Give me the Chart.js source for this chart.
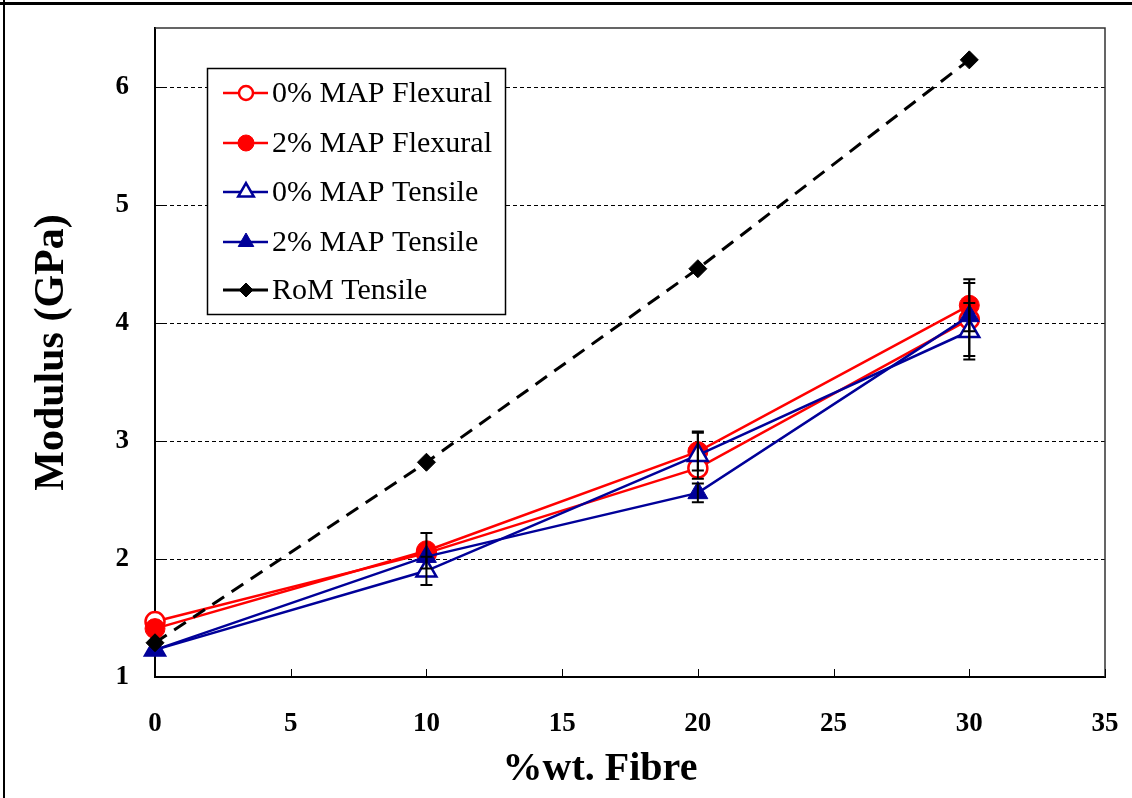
<!DOCTYPE html>
<html>
<head>
<meta charset="utf-8">
<script src="https://cdn.jsdelivr.net/npm/chart.js@4.4.0/dist/chart.umd.min.js"></script>
<style>
html,body{margin:0;padding:0;background:#fff;}
#wrap{width:1132px;height:798px;position:relative;}
</style>
</head>
<body>
<div id="wrap"><canvas id="c" width="1132" height="798"></canvas></div>
<script>
// ---- data ----
const fibreContent = [0, 10, 20, 30];
const flexural0MAP = [1.47, 2.05, 2.77, 4.03];
const flexural2MAP = [1.41, 2.07, 2.91, 4.15];
const tensile0MAP  = [1.23, 1.90, 2.88, 3.93];
const tensile2MAP  = [1.23, 2.02, 2.56, 4.06];
const romTensile   = [1.29, 2.82, 4.46, 6.23];
// error bar half-lengths (0 = none)
const flexural0Err = [0, 0, 0, 0.31];
const flexural2Err = [0, 0.15, 0.16, 0.22];
const tensile0Err  = [0, 0.12, 0.20, 0.24];
const tensile2Err  = [0, 0, 0.08, 0];
const xTicks = [0, 5, 10, 15, 20, 25, 30, 35];
const yTicks = [1, 2, 3, 4, 5, 6];
const seriesNames = ['0% MAP Flexural', '2% MAP Flexural', '0% MAP Tensile', '2% MAP Tensile', 'RoM Tensile'];
const xTitle = '%wt. Fibre';
const yTitle = 'Modulus (GPa)';

const RED = '#ff0000', BLUE = '#000099', BLACK = '#000000';
const SERIF = '"Liberation Serif", "Times New Roman", serif';

function pts(ys) { return fibreContent.map((x, i) => ({x: x, y: ys[i]})); }

const datasets = [
  {label: seriesNames[0], data: pts(flexural0MAP), errors: flexural0Err, borderColor: RED, borderWidth: 2.5,
   pointStyle: 'circle', pointRadius: 9.5, pointBackgroundColor: '#fff', pointBorderColor: RED, pointBorderWidth: 2.5, order: 5,
   legendRadius: 7},
  {label: seriesNames[1], data: pts(flexural2MAP), errors: flexural2Err, borderColor: RED, borderWidth: 2.5,
   pointStyle: 'circle', pointRadius: 10, pointBackgroundColor: RED, pointBorderColor: RED, pointBorderWidth: 1, order: 4,
   legendRadius: 8},
  {label: seriesNames[2], data: pts(tensile0MAP), errors: tensile0Err, borderColor: BLUE, borderWidth: 2.5,
   pointStyle: 'triangle', pointRadius: 11.5, pointBackgroundColor: '#fff', pointBorderColor: BLUE, pointBorderWidth: 2.5, order: 3,
   legendRadius: 9},
  {label: seriesNames[3], data: pts(tensile2MAP), errors: tensile2Err, borderColor: BLUE, borderWidth: 2.5,
   pointStyle: 'triangle', pointRadius: 11.5, pointBackgroundColor: BLUE, pointBorderColor: BLUE, pointBorderWidth: 1, order: 2,
   legendRadius: 9},
  {label: seriesNames[4], data: pts(romTensile), errors: null, borderColor: BLACK, borderWidth: 3, borderDash: [14, 9],
   pointStyle: 'rectRot', pointRadius: 9, pointBackgroundColor: BLACK, pointBorderColor: BLACK, pointBorderWidth: 1, order: 1,
   legendRadius: 7}
];
datasets.forEach(d => { d.fill = false; d.tension = 0; d.clip = false; d.pointHoverRadius = d.pointRadius; });

function drawMarker(ctx, ds, x, y, r) {
  ctx.save();
  ctx.fillStyle = ds.pointBackgroundColor;
  ctx.strokeStyle = ds.pointBorderColor;
  ctx.lineWidth = ds.pointBorderWidth;
  ctx.setLineDash([]);
  if (Chart.helpers && Chart.helpers.drawPoint) {
    Chart.helpers.drawPoint(ctx, {pointStyle: ds.pointStyle, radius: r, rotation: 0, borderWidth: ds.pointBorderWidth}, x, y);
  } else {
    ctx.beginPath(); ctx.arc(x, y, r, 0, Math.PI * 2); ctx.fill(); ctx.stroke();
  }
  ctx.restore();
}

function noPad(s) { s.paddingTop = 0; s.paddingBottom = 0; s.paddingLeft = 0; s.paddingRight = 0; }

const decor = {
  id: 'decor',
  afterDatasetsDraw(chart) {
    const ctx = chart.ctx, xs = chart.scales.x, ys = chart.scales.y;
    ctx.save();
    ctx.strokeStyle = '#000'; ctx.lineWidth = 2; ctx.setLineDash([]);
    chart.data.datasets.forEach(ds => {
      if (!ds.errors) return;
      ds.data.forEach((p, i) => {
        const e = ds.errors[i];
        if (!e) return;
        const px = xs.getPixelForValue(p.x);
        const top = ys.getPixelForValue(p.y + e), bot = ys.getPixelForValue(p.y - e);
        ctx.beginPath();
        ctx.moveTo(px, top); ctx.lineTo(px, bot);
        ctx.moveTo(px - 6, top); ctx.lineTo(px + 6, top);
        ctx.moveTo(px - 6, bot); ctx.lineTo(px + 6, bot);
        ctx.stroke();
      });
    });
    ctx.restore();
  },
  afterDraw(chart) {
    const ctx = chart.ctx, a = chart.chartArea, xs = chart.scales.x, ys = chart.scales.y;
    ctx.save();
    ctx.setLineDash([]);
    // plot frame top/right
    ctx.strokeStyle = '#333'; ctx.lineWidth = 1.5;
    ctx.beginPath();
    ctx.moveTo(a.left, a.top); ctx.lineTo(a.right, a.top); ctx.lineTo(a.right, a.bottom);
    ctx.stroke();
    // inner tick marks
    ctx.strokeStyle = '#000'; ctx.lineWidth = 1;
    ctx.beginPath();
    xTicks.forEach(v => { if (v === 0) return; const px = Math.round(xs.getPixelForValue(v)) + 0.5; ctx.moveTo(px, a.bottom); ctx.lineTo(px, a.bottom - 8); });
    yTicks.forEach(v => { if (v === 1) return; const py = Math.round(ys.getPixelForValue(v)) + 0.5; ctx.moveTo(a.left, py); ctx.lineTo(a.left + 8, py); });
    ctx.stroke();
    // x title
    ctx.fillStyle = '#000';
    ctx.font = 'bold 40px ' + SERIF;
    ctx.textAlign = 'center'; ctx.textBaseline = 'middle';
    ctx.fillText(xTitle, 600, 770);
    // legend
    const lx = 207.5, ly = 68.5, lw = 298, lh = 246;
    ctx.fillStyle = '#fff'; ctx.fillRect(lx, ly, lw, lh);
    ctx.strokeStyle = '#000'; ctx.lineWidth = 1.5; ctx.strokeRect(lx, ly, lw, lh);
    const rows = [93, 143, 192, 242, 290];
    chart.data.datasets.forEach((ds, i) => {
      const y = rows[i];
      ctx.save();
      ctx.strokeStyle = ds.borderColor; ctx.lineWidth = ds.borderWidth;
      ctx.setLineDash([]);
      ctx.beginPath(); ctx.moveTo(223, y); ctx.lineTo(268, y); ctx.stroke();
      ctx.restore();
      drawMarker(ctx, ds, 246, y, ds.legendRadius);
      ctx.fillStyle = '#000';
      ctx.font = '30px ' + SERIF;
      ctx.textAlign = 'left'; ctx.textBaseline = 'middle';
      ctx.fillText(ds.label, 272, y + 1);
    });
    // outer frame
    ctx.strokeStyle = '#000';
    ctx.lineWidth = 3;
    ctx.beginPath(); ctx.moveTo(0, 3.5); ctx.lineTo(1132, 3.5); ctx.stroke();
    ctx.lineWidth = 2;
    ctx.beginPath(); ctx.moveTo(4, 0); ctx.lineTo(4, 798); ctx.stroke();
    ctx.restore();
  }
};

new Chart(document.getElementById('c'), {
  type: 'line',
  data: {datasets: datasets},
  options: {
    responsive: false,
    animation: false,
    events: [],
    layout: {padding: {top: 28, right: 27, left: 0, bottom: 0}},
    plugins: {legend: {display: false}, tooltip: {enabled: false}},
    scales: {
      x: {
        type: 'linear', min: 0, max: 35,
        afterFit: s => { s.height = 121; noPad(s); },
        afterBuildTicks: s => { s.ticks = xTicks.map(v => ({value: v})); },
        ticks: {stepSize: 5, padding: 31, color: '#000', font: {family: SERIF, size: 27, weight: 'bold'}, maxRotation: 0},
        grid: {display: false, drawTicks: false},
        border: {display: true, color: '#000', width: 2},
        title: {display: false}
      },
      y: {
        type: 'linear', min: 1, max: 6.5,
        afterFit: s => { s.width = 155; noPad(s); },
        afterBuildTicks: s => { s.ticks = yTicks.map(v => ({value: v})); },
        ticks: {stepSize: 1, padding: 26, color: '#000', font: {family: SERIF, size: 27, weight: 'bold'}},
        grid: {display: true, drawTicks: false, color: c => (c.tick && c.tick.value === 1) ? 'rgba(0,0,0,0)' : '#000', lineWidth: 1},
        border: {display: true, color: '#000', width: 2, dash: [4, 3]},
        title: {display: true, text: yTitle, color: '#000', font: {family: SERIF, size: 42, weight: 'bold'}, padding: {top: 27, bottom: 0}}
      }
    }
  },
  plugins: [decor]
});
</script>
</body>
</html>
